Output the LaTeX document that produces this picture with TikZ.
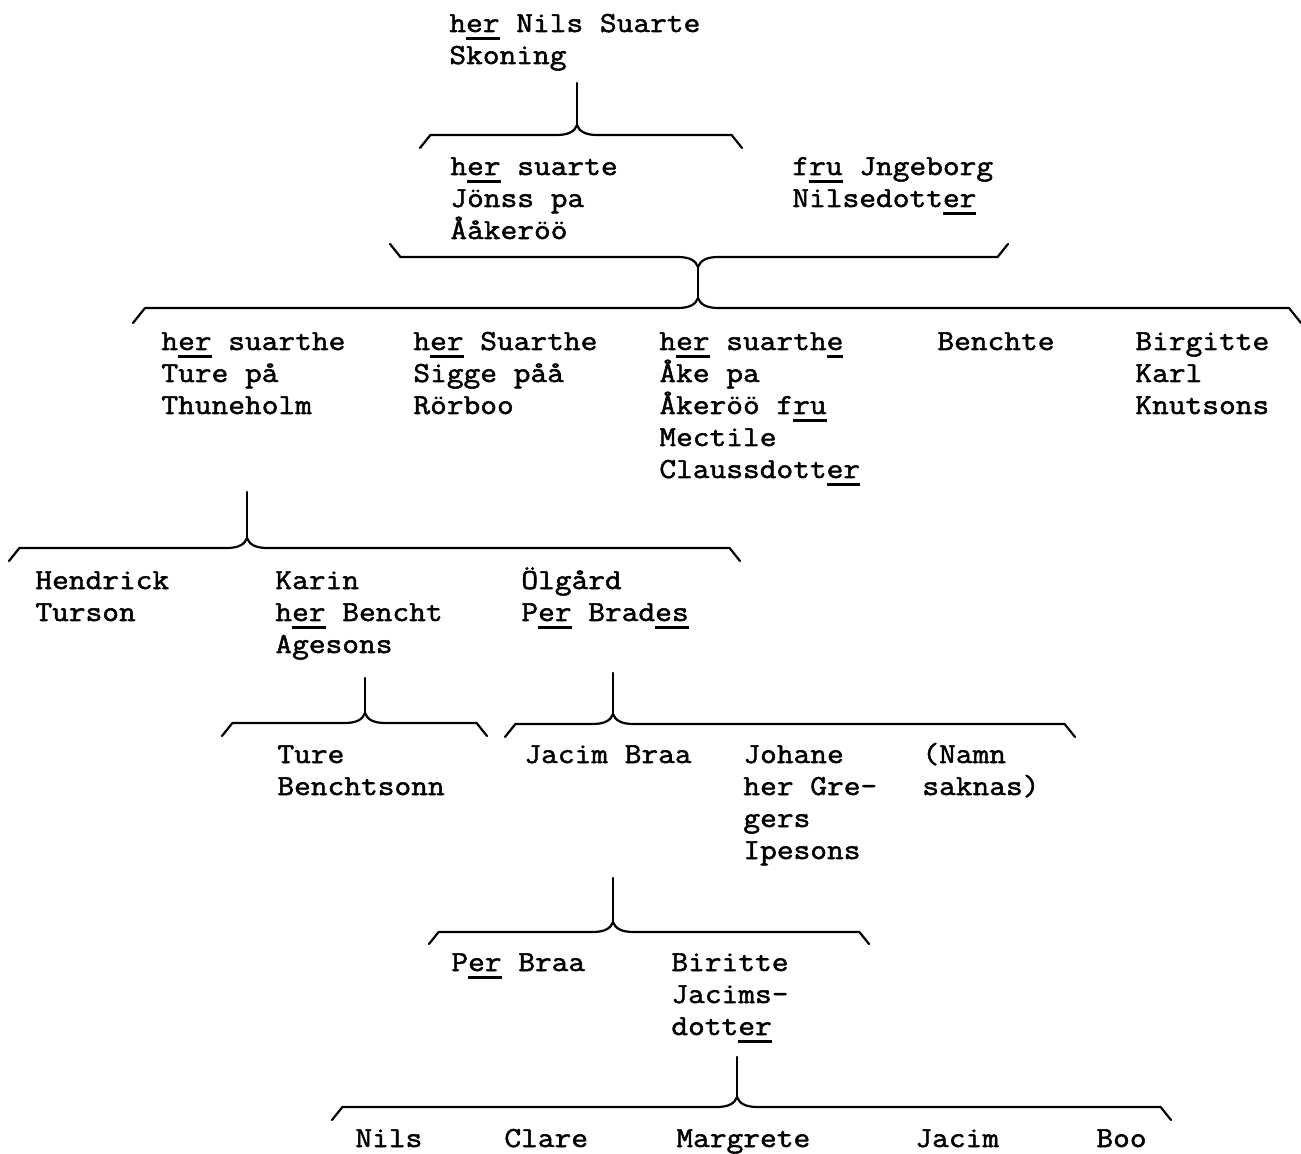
\documentclass[tikz,border=0pt]{standalone}
\usepackage{fontspec}
\newfontfamily\typew{Latin Modern Mono}[FakeStretch=1.12,FakeBold=1.8]
% underline marks of the typescript
\newcommand\ulmark[1]{\setbox0=\hbox{#1}\rlap{\vrule height -2.6pt depth 3.8pt width \wd0}\box0\relax}
% stacked lines, baseline on the first one
\newcommand\lines[1]{\begin{tabular}[t]{@{}l@{}}#1\end{tabular}}
% family brace: name, cusp x, cusp y, left x, right x, hook, direction
\newcommand\kinbar[7]{%
	\coordinate (#1c) at (#2,#3);
	\coordinate (#1l) at (#4,{#3+(10+#6)*(#7)});
	\coordinate (#1r) at (#5,{#3+(10+#6)*(#7)});
	\draw[kin] (#1l) -- (#4+0.8*#6,{#3+10*(#7)}) -- (#2-20,{#3+10*(#7)})
	.. controls (#2-8,{#3+10*(#7)}) and (#2-2,{#3+6*(#7)}) .. (#1c)
	.. controls (#2+2,{#3+6*(#7)}) and (#2+8,{#3+10*(#7)}) .. (#2+20,{#3+10*(#7)})
	-- (#5-0.8*#6,{#3+10*(#7)}) -- (#1r);}
\tikzset{
	kin/.style={line width=1.1pt},
	person/.style={anchor=base west, inner sep=0pt,
		font=\typew\fontsize{14.5pt}{16pt}\selectfont}
}
\begin{document}
\begin{tikzpicture}[line cap=round, line join=round, x=0.5pt, y=-0.5pt]
		% Picture window in pixels of the scan
		\def\xmax{1301} \def\ymax{1154}
		\useasboundingbox (0,0) rectangle (\xmax,\ymax);
		
		% Generation 1
		\node[person] (nils) at (449,32) {\lines{h\ulmark{er} Nils Suarte\\Skoning}};
		
		% Generation 2 and the marriage
		\node[person] (jons) at (450,175) {\lines{h\ulmark{er} suarte\\Jönss pa\\Ååkeröö}};
		\node[person] (ingeborg) at (792,175) {\lines{f\ulmark{ru} Jngeborg\\Nilsedott\ulmark{er}}};
		
		% Generation 3
		\node[person] (ture) at (161,350) {\lines{h\ulmark{er} suarthe\\Ture på\\Thuneholm}};
		\node[person] (sigge) at (413,350) {\lines{h\ulmark{er} Suarthe\\Sigge påå\\Rörboo}};
		\node[person] (ake) at (659,350) {\lines{h\ulmark{er} suarth\ulmark{e}\\Åke pa\\Åkeröö f\ulmark{ru}\\Mectile\\Claussdott\ulmark{er}}};
		\node[person] (benchte) at (937,350) {Benchte};
		\node[person] (birgitte) at (1135,350) {\lines{Birgitte\\Karl\\Knutsons}};
		
		% Generation 4
		\node[person] (hendrick) at (35,589) {\lines{Hendrick\\Turson}};
		\node[person] (karin) at (275,589) {\lines{Karin\\h\ulmark{er} Bencht\\Agesons}};
		\node[person] (olgard) at (521,589) {\lines{Ölgård\\P\ulmark{er} Brad\ulmark{es}}};
		
		% Generation 5
		\node[person] (tureb) at (277,763) {\lines{Ture\\Benchtsonn}};
		\node[person] (jacim) at (524,763) {Jacim Braa};
		\node[person] (johane) at (743,763) {\lines{Johane\\her Gre-\\gers\\Ipesons}};
		\node[person] (namn) at (922,763) {\lines{(Namn\\saknas)}};
		
		% Generation 6
		\node[person] (per) at (451,971) {P\ulmark{er} Braa};
		\node[person] (biritte) at (671,971) {\lines{Biritte\\Jacims-\\dott\ulmark{er}}};
		
		% Generation 7
		\node[person] (nilsb) at (355,1147) {Nils};
		\node[person] (clare) at (504,1147) {Clare};
		\node[person] (margrete) at (676,1147) {Margrete};
		\node[person] (jacimb) at (915,1147) {Jacim};
		\node[person] (boo) at (1096,1147) {Boo};
		
		% Braces and stems
		\kinbar{b1}{577}{125}{420}{742}{13}{1}
		\coordinate (t1) at (577,83);
		\draw[kin] (t1) -- (b1c);
		
		\kinbar{b2}{698}{267}{390}{1008}{13}{-1}
		\kinbar{b3}{698}{298}{133}{1301}{15}{1}
		\draw[kin] (b2c) -- (b3c);
		
		\kinbar{b4}{247}{538}{9}{740}{13}{1}
		\coordinate (t4) at (247,492);
		\draw[kin] (t4) -- (b4c);
		
		\kinbar{b5}{365}{713}{222}{487}{13}{1}
		\coordinate (t5) at (365,678);
		\draw[kin] (t5) -- (b5c);
		
		\kinbar{b6}{613}{714}{505}{1075}{13}{1}
		\coordinate (t6) at (613,673);
		\draw[kin] (t6) -- (b6c);
		
		\kinbar{b7}{613}{922}{429}{869}{12}{1}
		\coordinate (t7) at (613,878);
		\draw[kin] (t7) -- (b7c);
		
		\kinbar{b8}{737}{1097}{332}{1171}{13}{1}
		\coordinate (t8) at (737,1057);
		\draw[kin] (t8) -- (b8c);
	\end{tikzpicture}
\end{document}
